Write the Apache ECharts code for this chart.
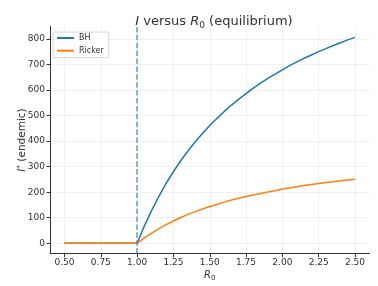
<!DOCTYPE html>
<html><head><meta charset="utf-8">
<script src="https://cdn.jsdelivr.net/npm/echarts@6/dist/echarts.min.js"></script>
<style>html,body{margin:0;padding:0;background:#fff}#c{width:378px;height:286px}</style>
</head><body><div id="c"></div>
<script>
const r0 = [0.50,0.55,0.60,0.65,0.70,0.75,0.80,0.85,0.90,0.95,1.00,1.05,1.10,1.15,1.20,1.25,1.30,1.35,1.40,1.45,1.50,1.55,1.60,1.65,1.70,1.75,1.80,1.85,1.90,1.95,2.00,2.05,2.10,2.15,2.20,2.25,2.30,2.35,2.40,2.45,2.50];
const bh = [0,0,0,0,0,0,0,0,0,0,0,68,129,184,235,280,323,361,397,430,461,489,516,541,564,586,607,627,645,662,679,695,710,724,737,750,762,774,785,796,806];
const ricker = [0,0,0,0,0,0,0,0,0,0,0,21,40,57,73,87,101,113,124,134,144,152,161,169,176,183,189,195,201,206,212,216,221,226,230,234,238,241,245,248,251];
const xTicks = [0.5,0.75,1.0,1.25,1.5,1.75,2.0,2.25,2.5];
const yTicks = [0,100,200,300,400,500,600,700,800];
const threshold = 1.0;

const FONT = 'DejaVu Sans';
const C = '#333';
const chart = echarts.init(document.getElementById('c'), null, {renderer:'canvas'});
chart.setOption({
  animation:false,
  backgroundColor:'#fff',
  textStyle:{fontFamily:FONT},
  title:{
    text:'{i|I}{t| versus }{i|R}{s|0}{t| (equilibrium)}',
    left:209, top:8, textAlign:'center',
    textStyle:{fontFamily:FONT,fontSize:13,fontWeight:'normal',color:C,
      rich:{
        t:{fontFamily:FONT,fontSize:13,color:C,lineHeight:17,verticalAlign:'middle'},
        i:{fontFamily:FONT,fontSize:13,fontStyle:'italic',color:C,lineHeight:17,verticalAlign:'middle'},
        s:{fontFamily:FONT,fontSize:9,color:C,lineHeight:9,verticalAlign:'bottom'}}}
  },
  grid:{left:50, right:8.5, top:26.5, bottom:32.4, containLabel:false, outerBoundsMode:'none'},
  legend:{
    orient:'vertical', left:53, top:32,
    padding:[1,5,2,4], itemGap:2.7, itemWidth:17, itemHeight:2,
    borderColor:'#d6d6d6', borderWidth:1, borderRadius:2, backgroundColor:'#fff',
    textStyle:{fontFamily:FONT,fontSize:8,color:C,lineHeight:10},
    data:[{name:'BH',icon:'rect'},{name:'Ricker',icon:'rect'}]
  },
  xAxis:{
    type:'value', min:0.4, max:2.6,
    name:'{i|R}{s|0}', nameLocation:'middle', nameGap:15, nameMoveOverlap:false,
    nameTextStyle:{fontFamily:FONT,fontSize:10,color:C,rich:{
      i:{fontFamily:FONT,fontSize:10,fontStyle:'italic',color:C,lineHeight:13,verticalAlign:'middle'},
      s:{fontFamily:FONT,fontSize:7,color:C,lineHeight:7,verticalAlign:'bottom'}}},
    axisLine:{show:true,onZero:false,lineStyle:{color:C,width:1}},
    axisTick:{show:true,length:3.5,inside:false,customValues:xTicks,lineStyle:{color:C}},
    axisLabel:{customValues:xTicks,formatter:v=>v.toFixed(2),fontFamily:FONT,fontSize:9,color:C,margin:5},
    splitLine:{show:true,lineStyle:{color:'#ececec',width:0.8}}
  },
  yAxis:{
    type:'value', min:-40.4, max:848.4,
    name:'{i|I}{s|*}{t| (endemic)}', nameLocation:'middle', nameGap:21, nameMoveOverlap:false,
    nameTextStyle:{fontFamily:FONT,fontSize:10.5,color:C,rich:{
      t:{fontFamily:FONT,fontSize:10.5,color:C,lineHeight:13,verticalAlign:'middle'},
      i:{fontFamily:FONT,fontSize:10.5,fontStyle:'italic',color:C,lineHeight:13,verticalAlign:'middle'},
      s:{fontFamily:FONT,fontSize:7.5,color:C,lineHeight:7,verticalAlign:'top'}}},
    axisLine:{show:true,onZero:false,lineStyle:{color:C,width:1}},
    axisTick:{show:true,length:3.5,inside:false,customValues:yTicks,lineStyle:{color:C}},
    axisLabel:{customValues:yTicks,fontFamily:FONT,fontSize:9,color:C,margin:5},
    splitLine:{show:true,lineStyle:{color:'#ececec',width:0.8}}
  },
  series:[
    {name:'BH', type:'line', data:r0.map((x,i)=>[x,bh[i]]), showSymbol:false, symbol:'none',
     lineStyle:{color:'#1f77b4',width:1.5}, itemStyle:{color:'#1f77b4'},
     markLine:{silent:true, symbol:'none', label:{show:false},
       lineStyle:{color:'#1f77b4',type:[5.5,2.4],width:1.5,opacity:0.7},
       data:[{xAxis:threshold}]}},
    {name:'Ricker', type:'line', data:r0.map((x,i)=>[x,ricker[i]]), showSymbol:false, symbol:'none',
     lineStyle:{color:'#ff7f0e',width:1.5}, itemStyle:{color:'#ff7f0e'}}
  ]
});
</script></body></html>
